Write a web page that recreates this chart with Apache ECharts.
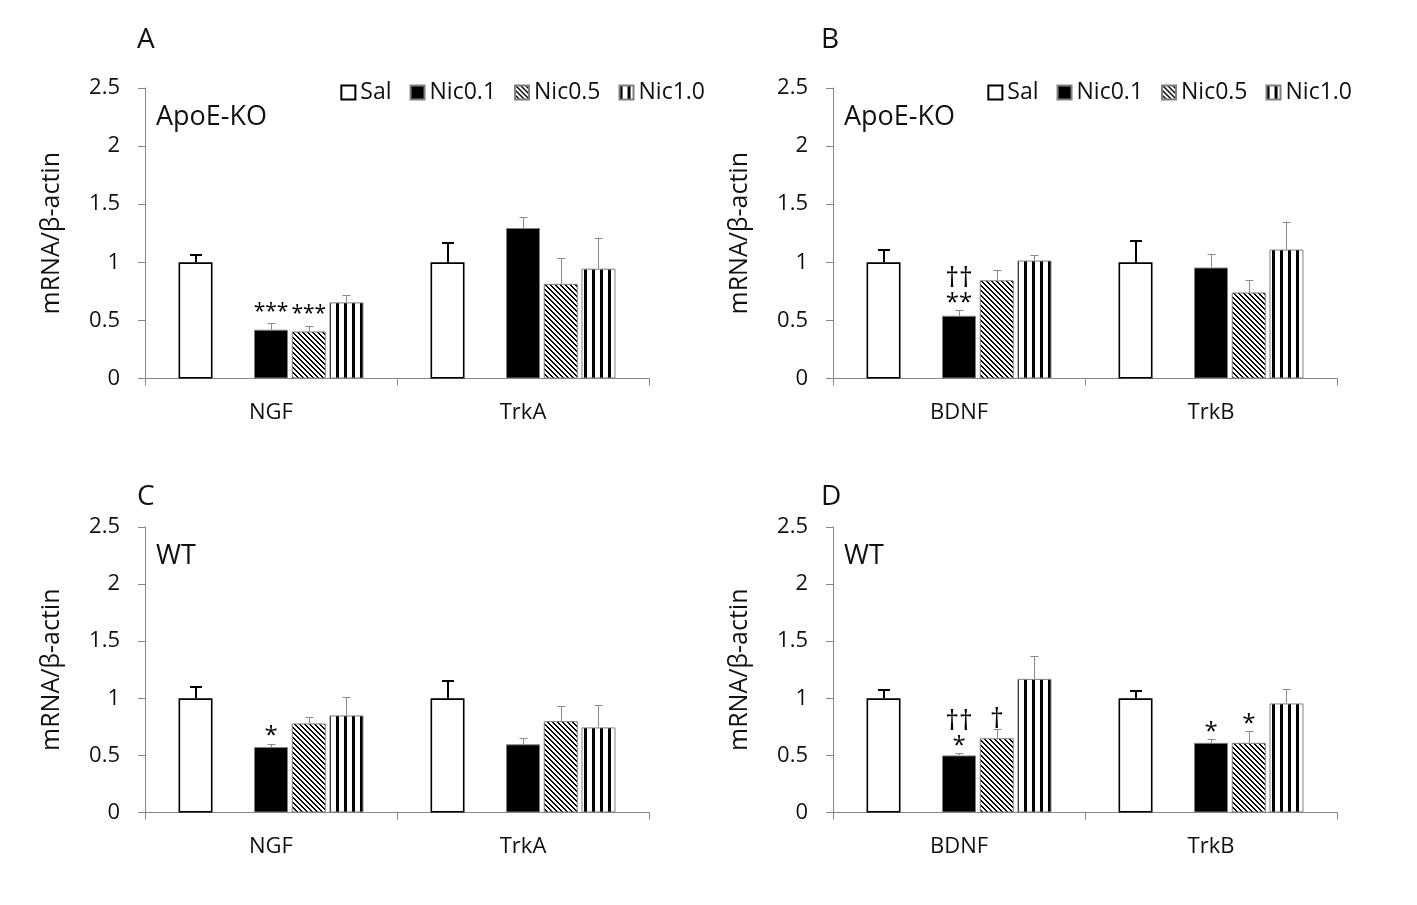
<!DOCTYPE html>
<html><head><meta charset="utf-8">
<script src="https://cdn.jsdelivr.net/npm/echarts@6/dist/echarts.min.js"></script>
<style>html,body{margin:0;padding:0;background:#fff}#c{width:1417px;height:905px}</style>
</head><body><div id="c"></div>
<script>
// ---------- DATA ----------
const groups = ['Sal', 'Nic0.1', 'Nic0.5', 'Nic1.0'];
const panelLetters = ['A', 'B', 'C', 'D'];
const strainLabels = ['ApoE-KO', 'ApoE-KO', 'WT', 'WT'];
const catsA = ['NGF', 'TrkA'];
const catsB = ['BDNF', 'TrkB'];
const catsC = ['NGF', 'TrkA'];
const catsD = ['BDNF', 'TrkB'];
const yMin = 0, yMax = 2.5, yStep = 0.5;
const yAxisTitle = 'mRNA/β-actin';
// rows: Sal, Nic0.1, Nic0.5, Nic1.0 ; columns: categories
const valA = [[1.00, 1.00], [0.42, 1.295], [0.405, 0.815], [0.655, 0.945]];
const errA = [[0.065, 0.165], [0.055, 0.095], [0.05, 0.22], [0.06, 0.265]];
const sigA = [['', ''], ['***', ''], ['***', ''], ['', '']];
const valB = [[1.00, 1.00], [0.54, 0.955], [0.845, 0.74], [1.015, 1.11]];
const errB = [[0.11, 0.18], [0.05, 0.12], [0.09, 0.11], [0.05, 0.24]];
const sigB = [['', ''], ['††\n**', ''], ['', ''], ['', '']];
const valC = [[1.00, 1.00], [0.573, 0.597], [0.78, 0.80], [0.85, 0.745]];
const errC = [[0.10, 0.155], [0.03, 0.053], [0.06, 0.135], [0.165, 0.20]];
const sigC = [['', ''], ['*', ''], ['', ''], ['', '']];
const valD = [[1.00, 1.00], [0.50, 0.61], [0.65, 0.61], [1.17, 0.955]];
const errD = [[0.07, 0.064], [0.02, 0.035], [0.08, 0.105], [0.20, 0.125]];
const sigD = [['', ''], ['††\n*', '*'], ['†', '*'], ['', '']];

// ---------- LAYOUT / STYLE ----------
const FONT = '"Open Sans", "Liberation Sans", sans-serif';
const panels = [
  {cats: catsA, val: valA, err: errA, sig: sigA},
  {cats: catsB, val: valB, err: errB, sig: sigB},
  {cats: catsC, val: valC, err: errC, sig: sigC},
  {cats: catsD, val: valD, err: errD, sig: sigD}
];
const gridPos = [
  {left: 145, top: 88, width: 504, height: 290.5},
  {left: 833, top: 88, width: 504, height: 290.5},
  {left: 145, top: 527, width: 504, height: 285.5},
  {left: 833, top: 527, width: 504, height: 285.5}
];
const letterPos = [[137, 40], [821, 40], [137, 497], [821, 497]];
const strainPos = [[156, 117], [844, 117], [156, 556], [844, 556]];
const slotOf = [0, 2, 3, 4]; // slot 1 is an empty gap
const BW = 34, GAPR = 0.11, NSLOT = 5;

function makeDiag() {
  const n = 5, cv = document.createElement('canvas');
  cv.width = n; cv.height = n;
  const ctx = cv.getContext('2d');
  ctx.fillStyle = '#fff'; ctx.fillRect(0, 0, n, n);
  ctx.fillStyle = '#000';
  for (let y = 0; y < n; y++) for (let x = 0; x < n; x++) {
    const d = ((x - y) % n + n) % n;
    if (d < 2) ctx.fillRect(x, y, 1, 1);
  }
  return cv;
}
function makeVert() {
  const cv = document.createElement('canvas');
  cv.width = 8; cv.height = 4;
  const ctx = cv.getContext('2d');
  ctx.fillStyle = '#fff'; ctx.fillRect(0, 0, 8, 4);
  ctx.fillStyle = '#000'; ctx.fillRect(0, 0, 3, 4);
  return cv;
}
const diag = makeDiag(), vert = makeVert();
const barStyles = [
  {color: '#fff', borderColor: '#000', borderWidth: 1.6},
  {color: '#000', borderColor: '#808080', borderWidth: 1},
  {color: {image: diag, repeat: 'repeat'}, borderColor: '#808080', borderWidth: 1},
  {color: {image: vert, repeat: 'repeat'}, borderColor: '#808080', borderWidth: 1}
];

const grids = [], xAxes = [], yAxes = [], series = [];
panels.forEach((p, pi) => {
  grids.push(Object.assign({containLabel: false, outerBoundsMode: 'none'}, gridPos[pi]));
  xAxes.push({
    type: 'category', gridIndex: pi, data: p.cats,
    axisLine: {lineStyle: {color: '#878787', width: 1}},
    axisTick: {show: true, length: 7, lineStyle: {color: '#878787'}},
    axisLabel: {fontFamily: FONT, fontSize: 22, color: '#111', margin: 23},
    splitLine: {show: false}
  });
  yAxes.push({
    type: 'value', gridIndex: pi, min: yMin, max: yMax, interval: yStep,
    name: yAxisTitle, nameLocation: 'middle', nameGap: 81,
    nameTextStyle: {fontFamily: FONT, fontSize: 25, color: '#111'},
    axisLine: {show: true, lineStyle: {color: '#878787', width: 1}},
    axisTick: {show: true, length: 7, lineStyle: {color: '#878787'}},
    axisLabel: {fontFamily: FONT, fontSize: 22, color: '#111', margin: 25},
    splitLine: {show: false}
  });
  for (let s = 0; s < NSLOT; s++) {
    const gi = slotOf.indexOf(s);
    series.push({
      type: 'bar', xAxisIndex: pi, yAxisIndex: pi,
      name: gi >= 0 ? groups[gi] : '_gap',
      data: gi >= 0 ? p.val[gi] : ['-', '-'],
      barWidth: BW, barGap: (GAPR * 100) + '%',
      itemStyle: gi >= 0 ? barStyles[gi] : {color: 'transparent'},
      emphasis: {disabled: true}, silent: true, z: 2
    });
  }
  const items = [];
  for (let g = 0; g < groups.length; g++) for (let c = 0; c < p.cats.length; c++) {
    items.push({g: g, cat: c, slot: slotOf[g], val: p.val[g][c], err: p.err[g][c], sig: p.sig[g][c]});
  }
  series.push({
    type: 'custom', xAxisIndex: pi, yAxisIndex: pi, z: 5, clip: false, silent: true,
    data: items.map(it => [it.cat, it.val + it.err]),
    encode: {x: 0, y: 1},
    renderItem: function (params, api) {
      const it = items[params.dataIndex];
      const gap = BW * GAPR;
      const sum = NSLOT * BW + (NSLOT - 1) * gap;
      const cx = api.coord([it.cat, 0])[0];
      let x = cx - sum / 2 + it.slot * (BW + gap) + BW / 2;
      const yb = api.coord([it.cat, it.val])[1];
      const yt = api.coord([it.cat, it.val + it.err])[1];
      const isSal = it.g === 0;
      const lw = isSal ? 2 : 1;
      const stroke = isSal ? '#000' : '#8a8a8a';
      const cap = isSal ? 12 : 8;
      const xl = lw === 1 ? Math.round(x) + 0.5 : Math.round(x);
      const ytl = lw === 1 ? Math.round(yt) + 0.5 : Math.round(yt);
      const children = [
        {type: 'line', shape: {x1: xl, y1: yb, x2: xl, y2: ytl}, style: {stroke: stroke, lineWidth: lw}},
        {type: 'line', shape: {x1: xl - cap / 2, y1: ytl, x2: xl + cap / 2, y2: ytl}, style: {stroke: stroke, lineWidth: lw}}
      ];
      if (it.sig) {
        const lines = it.sig.split('\n');
        let yCur = yt + 5;
        for (let k = lines.length - 1; k >= 0; k--) {
          const isDag = lines[k].indexOf('†') >= 0;
          const triple = lines[k].length >= 3;
          children.push({
            type: 'text', x: x, y: triple ? yCur - 6 : yCur,
            style: {text: lines[k], align: 'center', verticalAlign: 'bottom', fontFamily: FONT,
              fontSize: isDag ? 27 : (triple ? 21 : 24), fill: '#000'}
          });
          yCur -= isDag ? 30 : 22;
        }
      }
      return {type: 'group', children: children};
    }
  });
});

const legendBase = {
  data: groups, top: 76, itemWidth: 14, itemHeight: 14, itemGap: 18, icon: 'rect',
  selectedMode: false, textStyle: {fontFamily: FONT, fontSize: 23, color: '#111'}
};
const graphics = [];
panelLetters.forEach((t, i) => graphics.push({
  type: 'text', x: letterPos[i][0], y: letterPos[i][1],
  style: {text: t, fontFamily: FONT, fontSize: 28, fill: '#111', verticalAlign: 'middle', align: 'left'}
}));
strainLabels.forEach((t, i) => graphics.push({
  type: 'text', x: strainPos[i][0], y: strainPos[i][1],
  style: {text: t, fontFamily: FONT, fontSize: 27, fill: '#111', verticalAlign: 'middle', align: 'left'}
}));

const chart = echarts.init(document.getElementById('c'), null, {renderer: 'canvas'});
chart.setOption({
  backgroundColor: '#fff',
  animation: false,
  grid: grids, xAxis: xAxes, yAxis: yAxes, series: series,
  legend: [Object.assign({right: 707}, legendBase), Object.assign({right: 60}, legendBase)],
  graphic: graphics,
  tooltip: {show: false}
});
</script></body></html>
